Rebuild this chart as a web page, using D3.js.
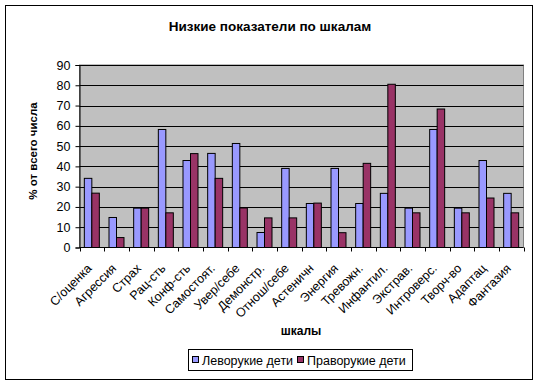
<!DOCTYPE html>
<html><head><meta charset="utf-8">
<script src="https://cdn.jsdelivr.net/npm/d3@7/dist/d3.min.js"></script>
<style>body{margin:0;background:#fff;}svg{display:block;font-family:"Liberation Sans",Arial,sans-serif;}</style>
</head><body>
<svg id="c" width="538" height="385"></svg>
<script>
const categories = ["С/оценка","Агрессия","Страх","Рац-сть","Конф-сть","Самостоят.","Увер/себе","Демонстр.","Отнош/себе","Астеничн","Энергия","Тревожн.","Инфантил.","Экстрав.","Интроверс.","Творч-во","Адаптац","Фантазия"];
const leftHanded  = [34.1,14.8,19.4,58.2,42.9,46.4,51.3,7.4,39.0,21.7,39.0,21.7,26.7,19.4,58.2,19.4,42.9,26.7];
const rightHanded = [26.8,4.9,19.4,17.1,46.3,34.1,19.5,14.6,14.6,21.9,7.3,41.5,80.5,17.1,68.3,17.1,24.4,17.1];
const seriesNames = ["Леворукие дети","Праворукие дети"];
const yTicks = [0,10,20,30,40,50,60,70,80,90];
const colors = ["#9999FF","#993366"];

const svg = d3.select("#c");
svg.append("rect").attr("x",5.5).attr("y",5.5).attr("width",527).attr("height",374)
  .attr("fill","#fff").attr("stroke","#000").attr("stroke-width",1);

const L=79.5, R=523.5, T=65, B=247.5;
const x = d3.scaleBand().domain(categories).range([L,R]).paddingInner(0).paddingOuter(0);
const y = d3.scaleLinear().domain([0,90]).range([B,T]);
const bw = x.bandwidth()/3.29;

svg.append("rect").attr("x",L).attr("y",T).attr("width",R-L).attr("height",B-T)
  .attr("fill","#C0C0C0").attr("stroke","#808080");

svg.append("g").selectAll("line").data(yTicks.filter(d=>d>0)).join("line")
  .attr("x1",L).attr("x2",R).attr("y1",d=>Math.round(y(d))+0.5).attr("y2",d=>Math.round(y(d))+0.5)
  .attr("stroke","#000");

const series=[leftHanded,rightHanded];
series.forEach((vals,si)=>{
  svg.append("g").selectAll("rect").data(vals).join("rect")
    .attr("x",(d,i)=>x(categories[i])+x.bandwidth()/2 - bw + si*bw)
    .attr("y",d=>y(d)).attr("width",bw).attr("height",d=>B-y(d))
    .attr("fill",colors[si]).attr("stroke","#000").attr("stroke-width",1);
});

// y axis
const ya = svg.append("g").attr("transform",`translate(${L},0)`)
  .call(d3.axisLeft(y).tickValues(yTicks).tickSize(4).tickPadding(5));
ya.select(".domain").attr("stroke","#000");
ya.selectAll("text").attr("font-size","12.5px").attr("fill","#000").attr("font-family","Liberation Sans, Arial, sans-serif");

// x axis
const boundaries = categories.map(c=>x(c)).concat([R]);
const xa = svg.append("g");
xa.append("line").attr("x1",L).attr("x2",R).attr("y1",B).attr("y2",B).attr("stroke","#000");
xa.selectAll("line.t").data(boundaries).join("line").attr("class","t")
  .attr("x1",d=>Math.round(d)+0.5).attr("x2",d=>Math.round(d)+0.5).attr("y1",B).attr("y2",B+4).attr("stroke","#000");
xa.selectAll("text").data(categories).join("text")
  .attr("transform",d=>`translate(${x(d)+x.bandwidth()/2-6},${B+15}) rotate(-45)`)
  .attr("text-anchor","end").attr("font-size","12.5px").attr("dy","0.75em").text(d=>d);

svg.append("text").attr("x",270).attr("y",31).attr("text-anchor","middle")
  .attr("font-size","13.5px").attr("font-weight","bold").text("Низкие показатели по шкалам");
svg.append("text").attr("transform","translate(37,151) rotate(-90)").attr("text-anchor","middle")
  .attr("font-size","11.5px").attr("font-weight","bold").text("% от всего числа");
svg.append("text").attr("x",301).attr("y",335).attr("text-anchor","middle")
  .attr("font-size","12px").attr("font-weight","bold").text("шкалы");

// legend
const lg = svg.append("g");
lg.append("rect").attr("x",188.5).attr("y",349.5).attr("width",224).attr("height",21).attr("fill","#fff").attr("stroke","#000");
const lx=[192,297];
seriesNames.forEach((n,i)=>{
  lg.append("rect").attr("x",lx[i]+0.5).attr("y",356.5).attr("width",6).attr("height",6).attr("fill",colors[i]).attr("stroke","#000");
  lg.append("text").attr("x",lx[i]+10).attr("y",364.5).attr("font-size","12.5px").text(n);
});
</script>
</body></html>
